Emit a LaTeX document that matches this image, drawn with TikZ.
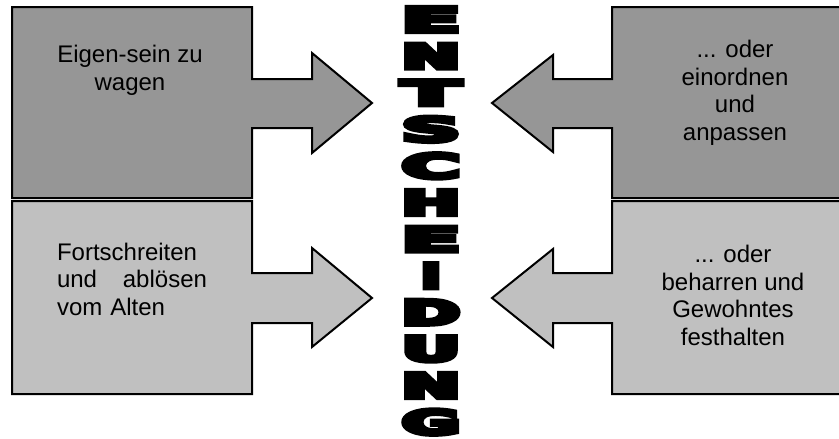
\documentclass[tikz,border=0pt]{standalone}
\usepackage{fontspec}
\setmainfont{Liberation Sans}
\newfontfamily\balkenfont{DejaVu Sans Bold}[FakeBold=12]
\usepackage{graphicx}
\definecolor{dunkelgrau}{RGB}{150,150,150}
\definecolor{hellgrau}{RGB}{192,192,192}
\tikzset{
  feld/.style={draw=black,line width=2pt,line join=miter},
  feldtext/.style={font=\fontsize{24}{27.5}\selectfont,inner sep=0pt,anchor=base},
  buchstabe/.style={inner sep=0pt,anchor=center}
}
\begin{document}
\begin{tikzpicture}[x=1pt,y=-1pt]
  \useasboundingbox (0,0) rectangle (839,439);
  \clip (0,0) rectangle (839,439);
  \def\Hoehe{25}%Buchstabenhoehe
  % linke Seite
  \draw[feld,fill=dunkelgrau] (12,7)--(252,7)--(252,79)--(312,79)--(312,53)--(372,103)--(312,153)--(312,128)--(252,128)--(252,198)--(12,198)--cycle;
  \draw[feld,fill=hellgrau] (12,201)--(252,201)--(252,273)--(312,273)--(312,248)--(372,298)--(312,347)--(312,323)--(252,323)--(252,394)--(12,394)--cycle;
  % rechte Seite
  \draw[feld,fill=dunkelgrau] (850,7)--(612,7)--(612,79)--(553,79)--(553,55)--(492,103)--(553,152)--(553,128)--(612,128)--(612,198)--(850,198)--cycle;
  \draw[feld,fill=hellgrau] (850,201)--(612,201)--(612,273)--(553,273)--(553,249)--(492,298)--(553,347)--(553,323)--(612,323)--(612,394)--(850,394)--cycle;
  % Texte
  \node[feldtext,align=center] (eigen) at (130,90) {Eigen-sein zu\\wagen};
  \node[feldtext,align=center] (einordnen) at (735,140) {... oder\\einordnen\\und\\anpassen};
  \node[feldtext,text width=150pt,align=left] (fortschritt) at (132,260) {Fortschreiten\\und\hfill ablösen\\vom Alten};
  \node[feldtext,align=center] (beharren) at (733,345) {... oder\\beharren und\\Gewohntes\\festhalten};
  % Entscheidung senkrecht
  \foreach \ch/\w [count=\i from 0] in {E/58,N/58,T/58,S/58,C/58,H/58,E/58,I/20,D/58,U/58,N/58,G/58}
    \node[buchstabe] (L\i) at (431,{19.5+36.6*\i}) {\resizebox{\w pt}{\Hoehe pt}{\balkenfont \ch}};
\end{tikzpicture}
\end{document}
